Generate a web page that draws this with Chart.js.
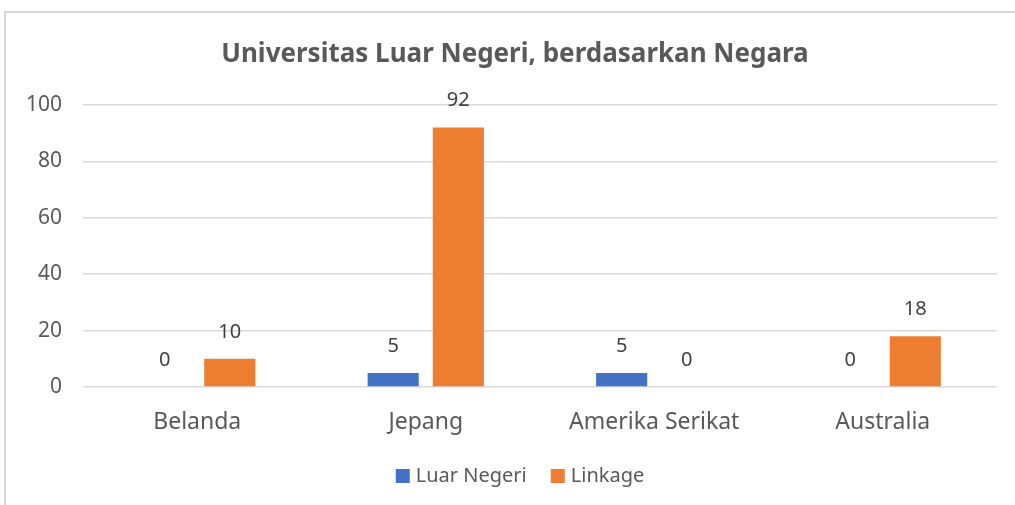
<!DOCTYPE html>
<html>
<head>
<meta charset="utf-8">
<script src="https://cdn.jsdelivr.net/npm/chart.js@4.4.1/dist/chart.umd.min.js"></script>
<style>
  html, body { margin: 0; padding: 0; background: #fff; }
  #wrap { width: 1015px; height: 505px; }
</style>
</head>
<body>
<div id="wrap"><canvas id="chart"></canvas></div>
<script>
const categories = ["Belanda", "Jepang", "Amerika Serikat", "Australia"];
const luarNegeri = [0, 5, 5, 0];
const linkage = [10, 92, 0, 18];
const yTicks = [0, 20, 40, 60, 80, 100];
const title = "Universitas Luar Negeri, berdasarkan Negara";

const FONT = "'Noto Sans', sans-serif";

// bingkai + judul
const frame = {
    id: "frame",
    beforeDraw(chart) {
        const ctx = chart.ctx;
        ctx.save();
        ctx.fillStyle = "#fff";
        ctx.fillRect(0, 0, chart.width, chart.height);
        ctx.strokeStyle = "#D9D9D9";
        ctx.lineWidth = 2;
        ctx.strokeRect(5, 12, chart.width + 20, chart.height + 20);
        ctx.fillStyle = "#595959";
        ctx.font = "bold 26px " + FONT;
        ctx.textAlign = "center";
        ctx.textBaseline = "middle";
        ctx.fillText(title, 515, 55);
        ctx.restore();
    }
};

// label nilai di atas batang
const valueLabels = {
    id: "valueLabels",
    afterDatasetsDraw(chart) {
        const ctx = chart.ctx;
        ctx.save();
        ctx.fillStyle = "#404040";
        ctx.font = "20px " + FONT;
        ctx.textAlign = "center";
        ctx.textBaseline = "middle";
        chart.data.datasets.forEach((ds, i) => {
            chart.getDatasetMeta(i).data.forEach((bar, j) => {
                ctx.fillText(String(ds.data[j]), bar.x, bar.y - 27);
            });
        });
        ctx.restore();
    }
};

// legenda di bawah (gaya Excel)
const bottomLegend = {
    id: "bottomLegend",
    afterDraw(chart) {
        const ctx = chart.ctx;
        const box = 14, gapText = 6, gapItem = 24, y = 476;
        ctx.save();
        ctx.font = "20px " + FONT;
        ctx.textBaseline = "middle";
        const items = chart.data.datasets.map(ds => ({
            label: ds.label, color: ds.backgroundColor, w: ctx.measureText(ds.label).width
        }));
        const total = items.reduce((s, it) => s + box + gapText + it.w, 0) + gapItem * (items.length - 1);
        let x = 520 - total / 2;
        items.forEach(it => {
            ctx.fillStyle = it.color;
            ctx.fillRect(x, y - box / 2, box, box);
            x += box + gapText;
            ctx.fillStyle = "#595959";
            ctx.fillText(it.label, x, y);
            x += it.w + gapItem;
        });
        ctx.restore();
    }
};

new Chart(document.getElementById("chart"), {
    type: "bar",
    data: {
        labels: categories,
        datasets: [
            { label: "Luar Negeri", data: luarNegeri, backgroundColor: "#4472C4" },
            { label: "Linkage", data: linkage, backgroundColor: "#ED7D31" }
        ]
    },
    options: {
        responsive: true,
        maintainAspectRatio: false,
        animation: false,
        categoryPercentage: 0.57,
        barPercentage: 0.785,
        layout: { padding: { top: 105, right: 18, bottom: 48, left: 0 } },
        plugins: {
            legend: { display: false },
            tooltip: { enabled: false }
        },
        scales: {
            x: {
                grid: { display: false },
                border: { display: false },
                ticks: { color: "#595959", font: { family: FONT, size: 23 }, padding: 14 },
                afterFit: s => { s.height = 70; }
            },
            y: {
                min: 0,
                max: 100,
                afterBuildTicks: s => { s.ticks = yTicks.map(v => ({ value: v })); },
                grid: { color: "#D9D9D9", lineWidth: 1.5, drawTicks: false },
                border: { display: false },
                ticks: { color: "#595959", font: { family: FONT, size: 21 }, padding: 21 },
                afterFit: s => { s.width = 83; }
            }
        }
    },
    plugins: [frame, valueLabels, bottomLegend]
});
</script>
</body>
</html>
